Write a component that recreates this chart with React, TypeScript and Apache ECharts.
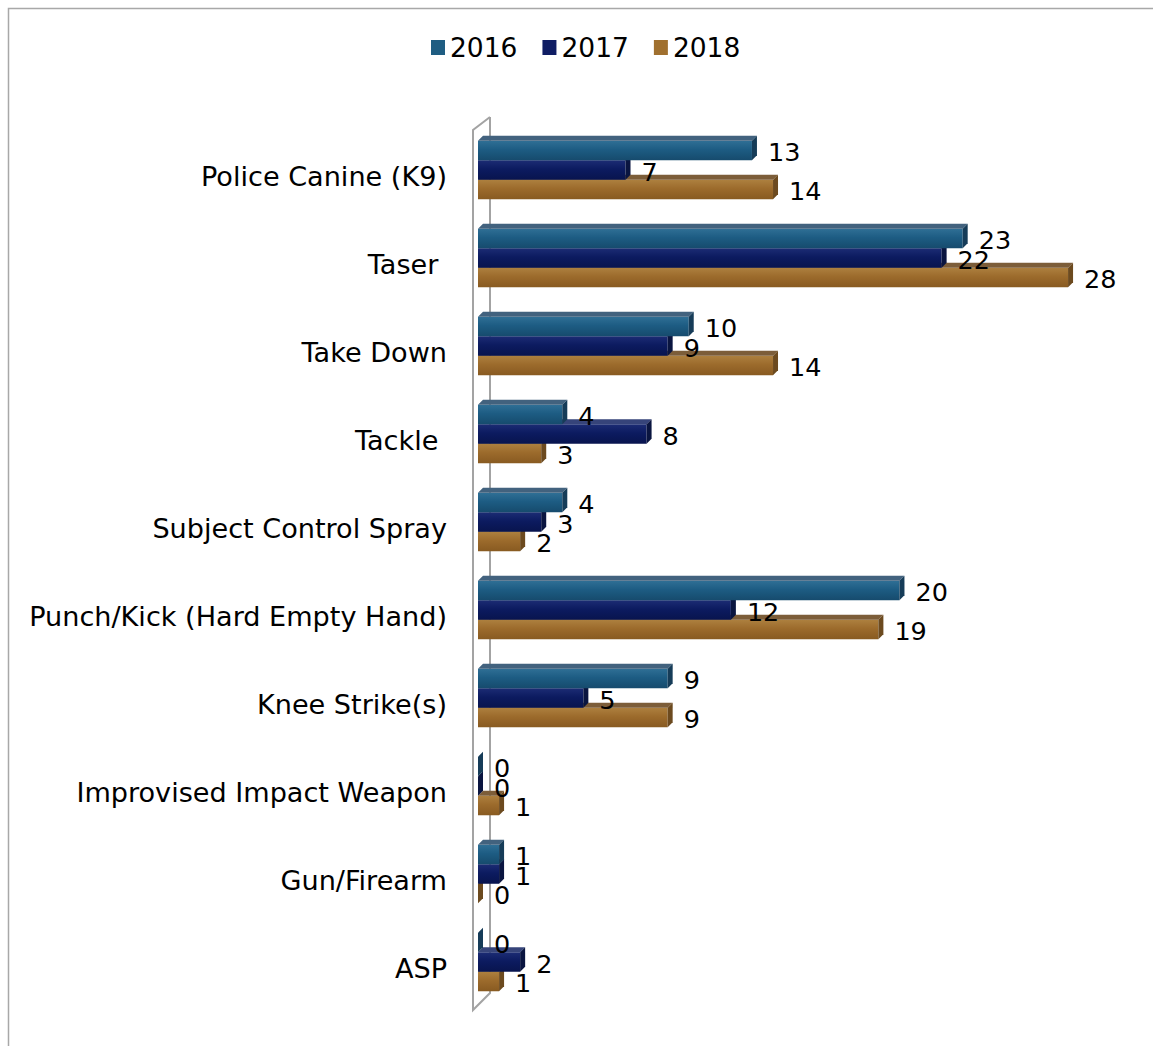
import React, { useEffect, useRef } from "react";
import * as echarts from "echarts";

const categories = [
  "Police Canine (K9)",
  "Taser ",
  "Take Down",
  "Tackle ",
  "Subject Control Spray",
  "Punch/Kick (Hard Empty Hand)",
  "Knee Strike(s)",
  "Improvised Impact Weapon",
  "Gun/Firearm",
  "ASP",
];
const years = ["2016", "2017", "2018"];
const values2016 = [13, 23, 10, 4, 4, 20, 9, 0, 1, 0];
const values2017 = [7, 22, 9, 8, 3, 12, 5, 0, 1, 2];
const values2018 = [14, 28, 14, 3, 2, 19, 9, 1, 0, 1];

const FONT = "DejaVu Sans, Verdana, sans-serif";

const palette = [
  { front: ["#2f6f95", "#1d5c83", "#164b6d"], top: "#42627e", side: "#163c58", legend: "#1f5d82" },
  { front: ["#1c2c74", "#0c1b60", "#08144e"], top: "#36447a", side: "#0a1540", legend: "#0f1d64" },
  { front: ["#ad803f", "#9c6b2c", "#885a21"], top: "#7c5d39", side: "#6c4a1f", legend: "#a0702f" },
];

const allValues = [values2016, values2017, values2018];

export default function App() {
  const ref = useRef<HTMLDivElement>(null);
  useEffect(() => {
    if (!ref.current) return;
    const chart = echarts.init(ref.current, undefined, { renderer: "svg" });
    const DX = 5;
    const DY = 5;
    const makeSeries = (si: number) => ({
      type: "custom",
      name: years[si],
      z: 4 - si,
      clip: false,
      itemStyle: { color: palette[si].legend },
      encode: { x: 0, y: 1 },
      data: allValues[si].map((v, i) => [v, i]),
      renderItem: (params: any, api: any) => {
        const v = api.value(0);
        const idx = api.value(1);
        const end = api.coord([v, idx]);
        const start = api.coord([0, idx]);
        const band = api.size([0, 1])[1];
        const h = band * 0.2216;
        const center = end[1] - band * 0.068;
        const y0 = center - 1.5 * h + si * h;
        const y1 = y0 + h;
        const x0 = start[0];
        const x1 = end[0];
        const p = palette[si];
        return {
          type: "group",
          children: [
            {
              type: "rect",
              shape: { x: x0, y: y0, width: x1 - x0, height: h },
              style: {
                fill: new echarts.graphic.LinearGradient(0, 0, 0, 1, [
                  { offset: 0, color: p.front[0] },
                  { offset: 0.45, color: p.front[1] },
                  { offset: 1, color: p.front[2] },
                ]),
              },
            },
            {
              type: "polygon",
              shape: {
                points: [
                  [x0, y0],
                  [x0 + DX, y0 - DY],
                  [x1 + DX, y0 - DY],
                  [x1, y0],
                ],
              },
              style: { fill: p.top },
            },
            {
              type: "polygon",
              shape: {
                points: [
                  [x1, y0],
                  [x1 + DX, y0 - DY],
                  [x1 + DX, y1 - DY],
                  [x1, y1],
                ],
              },
              style: { fill: p.side },
            },
            {
              type: "text",
              z2: 10,
              style: {
                text: String(v),
                x: x1 + 16,
                y: (y0 + y1) / 2 + 1.5,
                align: "left",
                verticalAlign: "middle",
                fontSize: 25.5,
                fontFamily: FONT,
                fill: "#000",
              },
            },
          ],
        };
      },
    });

    chart.setOption({
      animation: false,
      backgroundColor: "#ffffff",
      legend: {
        data: years,
        left: 431,
        top: 34,
        padding: 0,
        itemWidth: 14,
        itemHeight: 15,
        itemGap: 25,
        icon: "rect",
        textStyle: { fontSize: 26.5, fontFamily: FONT, color: "#000" },
      },
      grid: { left: 478, top: 132, height: 880, width: 632.2, containLabel: false },
      xAxis: {
        type: "value",
        min: 0,
        max: 30,
        show: false,
      },
      yAxis: {
        type: "category",
        data: categories,
        inverse: true,
        axisLine: { show: false },
        axisTick: { show: false },
        splitLine: { show: false },
        axisLabel: {
          margin: 31,
          fontSize: 27.1,
          fontFamily: FONT,
          color: "#000",
        },
      },
      graphic: [
        {
          type: "polyline",
          z: 0,
          silent: true,
          shape: {
            points: [
              [490, 117],
              [473, 130],
              [473, 1010],
              [490, 993],
              [490, 117],
            ],
          },
          style: { stroke: "#a3a3a3", lineWidth: 2, fill: "none" },
        },
        {
          type: "polyline",
          z: 0,
          silent: true,
          shape: {
            points: [
              [8.5, 1046],
              [8.5, 8.5],
              [1153, 8.5],
            ],
          },
          style: { stroke: "#a8a8a8", lineWidth: 1.5, fill: "none" },
        },
      ],
      series: [makeSeries(0), makeSeries(1), makeSeries(2)],
    });
    return () => chart.dispose();
  }, []);
  return (
    <div
      ref={ref}
      style={{ position: "absolute", left: 0, top: 0, width: 1153, height: 1046 }}
    />
  );
}
